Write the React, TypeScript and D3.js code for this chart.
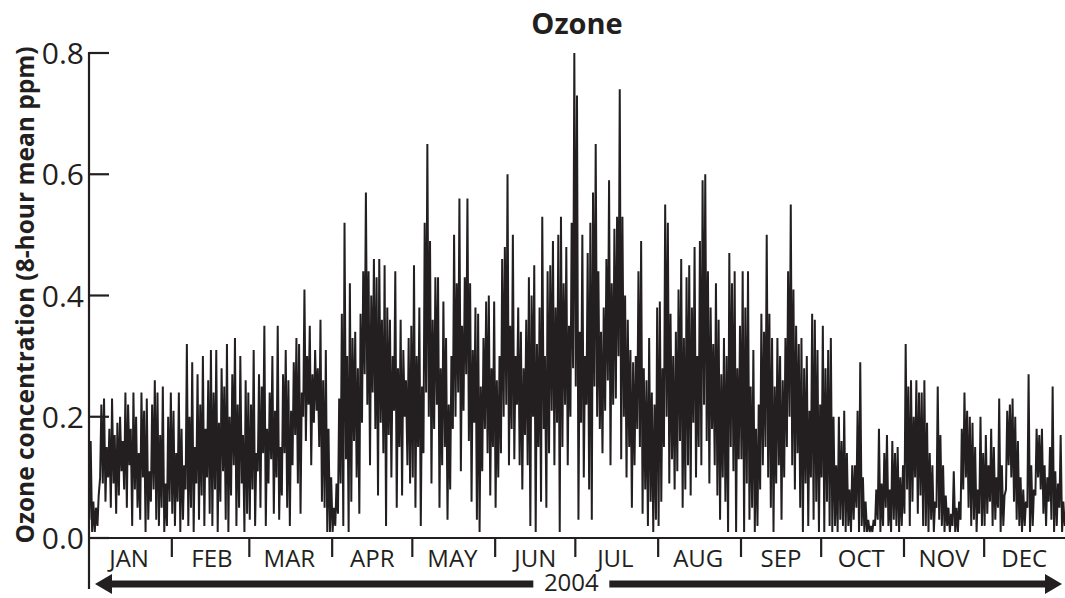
import * as d3 from "d3";

// daily highs / lows of the 8-hour mean, ppm
const janHigh = [0.16, 0.06, 0.05, 0.07, 0.22, 0.23, 0.15, 0.18, 0.23, 0.17, 0.19, 0.20, 0.16, 0.24, 0.22, 0.18, 0.24, 0.20, 0.14, 0.24, 0.21, 0.23, 0.11, 0.22, 0.26, 0.24, 0.17, 0.25, 0.09, 0.20, 0.24];
const janLow = [0.03, 0.01, 0.01, 0.02, 0.10, 0.09, 0.06, 0.10, 0.05, 0.09, 0.04, 0.07, 0.11, 0.08, 0.05, 0.12, 0.02, 0.08, 0.05, 0.03, 0.10, 0.01, 0.03, 0.06, 0.08, 0.03, 0.02, 0.05, 0.01, 0.02, 0.06];
const febHigh = [0.21, 0.14, 0.24, 0.18, 0.12, 0.32, 0.20, 0.29, 0.15, 0.27, 0.22, 0.30, 0.18, 0.26, 0.31, 0.24, 0.31, 0.19, 0.28, 0.25, 0.32, 0.20, 0.27, 0.33, 0.22, 0.30, 0.17, 0.26, 0.24];
const febLow = [0.04, 0.02, 0.06, 0.01, 0.03, 0.08, 0.02, 0.05, 0.01, 0.09, 0.03, 0.07, 0.02, 0.10, 0.04, 0.02, 0.08, 0.01, 0.06, 0.11, 0.03, 0.01, 0.07, 0.12, 0.02, 0.05, 0.09, 0.01, 0.04];
const marHigh = [0.22, 0.31, 0.14, 0.27, 0.25, 0.35, 0.18, 0.24, 0.30, 0.21, 0.35, 0.15, 0.27, 0.31, 0.26, 0.21, 0.29, 0.33, 0.32, 0.24, 0.41, 0.30, 0.35, 0.27, 0.31, 0.28, 0.36, 0.26, 0.31, 0.18, 0.10];
const marLow = [0.03, 0.08, 0.02, 0.11, 0.05, 0.14, 0.02, 0.09, 0.13, 0.04, 0.10, 0.03, 0.07, 0.14, 0.05, 0.02, 0.12, 0.17, 0.09, 0.04, 0.20, 0.16, 0.22, 0.12, 0.19, 0.21, 0.15, 0.06, 0.05, 0.01, 0.01];
const aprHigh = [0.05, 0.09, 0.23, 0.37, 0.52, 0.30, 0.42, 0.33, 0.34, 0.28, 0.37, 0.44, 0.57, 0.44, 0.40, 0.46, 0.43, 0.46, 0.36, 0.45, 0.38, 0.36, 0.30, 0.44, 0.28, 0.36, 0.31, 0.26, 0.33, 0.35];
const aprLow = [0.01, 0.02, 0.04, 0.09, 0.02, 0.13, 0.01, 0.06, 0.16, 0.10, 0.04, 0.19, 0.27, 0.22, 0.12, 0.24, 0.18, 0.07, 0.19, 0.14, 0.02, 0.17, 0.10, 0.21, 0.05, 0.15, 0.07, 0.20, 0.12, 0.09];
const mayHigh = [0.45, 0.30, 0.38, 0.25, 0.52, 0.65, 0.49, 0.36, 0.43, 0.43, 0.28, 0.39, 0.33, 0.22, 0.30, 0.50, 0.42, 0.56, 0.35, 0.43, 0.56, 0.42, 0.31, 0.38, 0.37, 0.25, 0.33, 0.39, 0.40, 0.28, 0.39];
const mayLow = [0.10, 0.05, 0.15, 0.02, 0.14, 0.24, 0.20, 0.09, 0.18, 0.22, 0.05, 0.12, 0.15, 0.03, 0.08, 0.18, 0.20, 0.24, 0.11, 0.21, 0.27, 0.16, 0.06, 0.19, 0.03, 0.01, 0.11, 0.18, 0.14, 0.07, 0.15];
const junHigh = [0.26, 0.30, 0.46, 0.48, 0.60, 0.35, 0.50, 0.30, 0.38, 0.34, 0.28, 0.36, 0.43, 0.40, 0.45, 0.32, 0.38, 0.53, 0.30, 0.44, 0.45, 0.49, 0.38, 0.50, 0.53, 0.42, 0.48, 0.35, 0.52, 0.80];
const junLow = [0.05, 0.10, 0.14, 0.20, 0.22, 0.12, 0.18, 0.13, 0.22, 0.12, 0.08, 0.17, 0.12, 0.02, 0.20, 0.01, 0.15, 0.06, 0.18, 0.05, 0.14, 0.21, 0.12, 0.19, 0.01, 0.15, 0.22, 0.12, 0.20, 0.28];
const julHigh = [0.73, 0.34, 0.50, 0.30, 0.47, 0.52, 0.57, 0.65, 0.44, 0.34, 0.38, 0.46, 0.59, 0.42, 0.51, 0.53, 0.74, 0.53, 0.40, 0.36, 0.31, 0.29, 0.30, 0.44, 0.49, 0.28, 0.26, 0.33, 0.24, 0.22, 0.38];
const julLow = [0.25, 0.03, 0.19, 0.10, 0.22, 0.08, 0.03, 0.25, 0.20, 0.18, 0.14, 0.21, 0.26, 0.12, 0.22, 0.23, 0.30, 0.13, 0.20, 0.10, 0.15, 0.05, 0.12, 0.18, 0.15, 0.04, 0.08, 0.02, 0.06, 0.01, 0.03];
const augHigh = [0.39, 0.28, 0.55, 0.52, 0.37, 0.30, 0.34, 0.41, 0.46, 0.33, 0.43, 0.45, 0.38, 0.48, 0.30, 0.49, 0.59, 0.60, 0.44, 0.38, 0.32, 0.42, 0.36, 0.27, 0.33, 0.30, 0.47, 0.42, 0.44, 0.28, 0.35];
const augLow = [0.02, 0.06, 0.15, 0.20, 0.09, 0.13, 0.08, 0.11, 0.16, 0.05, 0.08, 0.12, 0.07, 0.19, 0.10, 0.15, 0.12, 0.22, 0.16, 0.09, 0.18, 0.12, 0.07, 0.03, 0.10, 0.06, 0.01, 0.15, 0.11, 0.01, 0.13];
const sepHigh = [0.44, 0.38, 0.44, 0.25, 0.31, 0.18, 0.22, 0.37, 0.34, 0.50, 0.37, 0.33, 0.25, 0.33, 0.30, 0.26, 0.33, 0.44, 0.55, 0.41, 0.35, 0.32, 0.33, 0.28, 0.30, 0.21, 0.37, 0.36, 0.31, 0.22];
const sepLow = [0.13, 0.01, 0.09, 0.03, 0.05, 0.01, 0.02, 0.08, 0.12, 0.15, 0.10, 0.05, 0.01, 0.09, 0.12, 0.03, 0.10, 0.15, 0.20, 0.12, 0.08, 0.14, 0.05, 0.01, 0.09, 0.02, 0.10, 0.03, 0.06, 0.01];
const octHigh = [0.35, 0.28, 0.31, 0.33, 0.20, 0.12, 0.20, 0.16, 0.21, 0.14, 0.08, 0.12, 0.12, 0.21, 0.29, 0.10, 0.06, 0.03, 0.02, 0.03, 0.08, 0.18, 0.09, 0.14, 0.17, 0.08, 0.16, 0.14, 0.15, 0.10, 0.12];
const octLow = [0.10, 0.01, 0.06, 0.02, 0.01, 0.02, 0.01, 0.03, 0.02, 0.01, 0.02, 0.01, 0.03, 0.05, 0.01, 0.02, 0.01, 0.01, 0.01, 0.01, 0.02, 0.03, 0.01, 0.02, 0.05, 0.02, 0.01, 0.03, 0.02, 0.01, 0.02];
const novHigh = [0.32, 0.25, 0.26, 0.20, 0.26, 0.24, 0.24, 0.26, 0.19, 0.14, 0.12, 0.06, 0.25, 0.17, 0.12, 0.07, 0.05, 0.04, 0.11, 0.05, 0.06, 0.18, 0.24, 0.21, 0.20, 0.19, 0.15, 0.08, 0.20, 0.14];
const novLow = [0.04, 0.08, 0.02, 0.06, 0.10, 0.04, 0.07, 0.02, 0.02, 0.01, 0.03, 0.01, 0.05, 0.03, 0.02, 0.01, 0.02, 0.01, 0.02, 0.01, 0.01, 0.03, 0.08, 0.10, 0.05, 0.02, 0.03, 0.01, 0.04, 0.02];
const decHigh = [0.17, 0.12, 0.18, 0.15, 0.10, 0.23, 0.12, 0.07, 0.21, 0.22, 0.23, 0.20, 0.16, 0.10, 0.08, 0.06, 0.27, 0.12, 0.08, 0.18, 0.17, 0.18, 0.12, 0.10, 0.15, 0.25, 0.11, 0.09, 0.17, 0.06, 0.04];
const decLow = [0.02, 0.04, 0.06, 0.02, 0.03, 0.05, 0.01, 0.02, 0.08, 0.12, 0.10, 0.06, 0.03, 0.02, 0.01, 0.02, 0.05, 0.01, 0.02, 0.07, 0.10, 0.08, 0.04, 0.02, 0.06, 0.03, 0.01, 0.02, 0.05, 0.01, 0.02];

const highs = [janHigh, febHigh, marHigh, aprHigh, mayHigh, junHigh, julHigh, augHigh, sepHigh, octHigh, novHigh, decHigh];
const lows = [janLow, febLow, marLow, aprLow, mayLow, junLow, julLow, augLow, sepLow, octLow, novLow, decLow];
const monthLabels = ["JAN", "FEB", "MAR", "APR", "MAY", "JUN", "JUL", "AUG", "SEP", "OCT", "NOV", "DEC"];
const yTicks = [0, 0.2, 0.4, 0.6, 0.8];

const ink = "#231f20";
const font = "'Open Sans', 'DejaVu Sans', sans-serif";

export default function App() {
  const width = 1065;
  const height = 598;
  const left = 89;
  const right = 1067;
  const top = 53;
  const bottom = 538;

  const x = d3.scaleTime()
    .domain([new Date(2004, 0, 1), new Date(2005, 0, 1)])
    .range([left, right]);
  const y = d3.scaleLinear().domain([0, 0.8]).range([bottom, top]);

  const points: { t: Date; v: number }[] = [];
  highs.forEach((hi, m) => {
    hi.forEach((h, d) => {
      points.push({ t: new Date(2004, m, d + 1, 4), v: lows[m][d] });
      points.push({ t: new Date(2004, m, d + 1, 15), v: h });
    });
  });

  const line = d3.line<{ t: Date; v: number }>()
    .x(d => x(d.t))
    .y(d => y(d.v));

  const yearX = x(new Date(2004, 6, 1)) - 4;
  const arrowY = 584;

  return (
    <svg width={width} height={height} style={{ position: "absolute", left: 0, top: 0, background: "#fff" }}>
      <text x={577} y={34} textAnchor="middle" fontFamily={font} fontWeight="bold" fontSize={29} fill={ink}>Ozone</text>

      <text transform={`translate(34,295) rotate(-90)`} textAnchor="middle"
        fontFamily={font} fontWeight="bold" fontSize={24.5} fill={ink}>
        Ozone concentration (8-hour mean ppm)
      </text>

      <path d={line(points) ?? ""} fill="none" stroke={ink} strokeWidth={2} strokeLinejoin="miter" />

      {/* axes */}
      <line x1={left} x2={left} y1={top - 1} y2={589} stroke={ink} strokeWidth={2.2} />
      <line x1={left} x2={width} y1={bottom} y2={bottom} stroke={ink} strokeWidth={2.2} />
      {yTicks.map(t => (
        <g key={t}>
          <line x1={left} x2={left + 20} y1={y(t)} y2={y(t)} stroke={ink} strokeWidth={2.2} />
          <text x={left - 5} y={y(t) + 11} textAnchor="end" fontFamily={font} fontSize={30} fill={ink}>
            {t.toFixed(1)}
          </text>
        </g>
      ))}
      {monthLabels.map((lab, m) => (
        <g key={lab}>
          {m > 0 && (
            <line x1={x(new Date(2004, m, 1))} x2={x(new Date(2004, m, 1))} y1={bottom} y2={bottom + 19}
              stroke={ink} strokeWidth={2.2} />
          )}
          <text x={x(new Date(2004, m, 16))} y={567} textAnchor="middle" fontFamily={font} fontSize={24} fill={ink}>
            {lab}
          </text>
        </g>
      ))}

      {/* year arrow */}
      <line x1={108} x2={yearX - 38} y1={arrowY} y2={arrowY} stroke={ink} strokeWidth={7} />
      <line x1={yearX + 38} x2={1048} y1={arrowY} y2={arrowY} stroke={ink} strokeWidth={7} />
      <path d={`M95,${arrowY} L112,${arrowY - 10} L112,${arrowY + 10} Z`} fill={ink} />
      <path d={`M1062,${arrowY} L1045,${arrowY - 10} L1045,${arrowY + 10} Z`} fill={ink} />
      <text x={yearX} y={591} textAnchor="middle" fontFamily={font} fontSize={24} fill={ink}>2004</text>
    </svg>
  );
}
